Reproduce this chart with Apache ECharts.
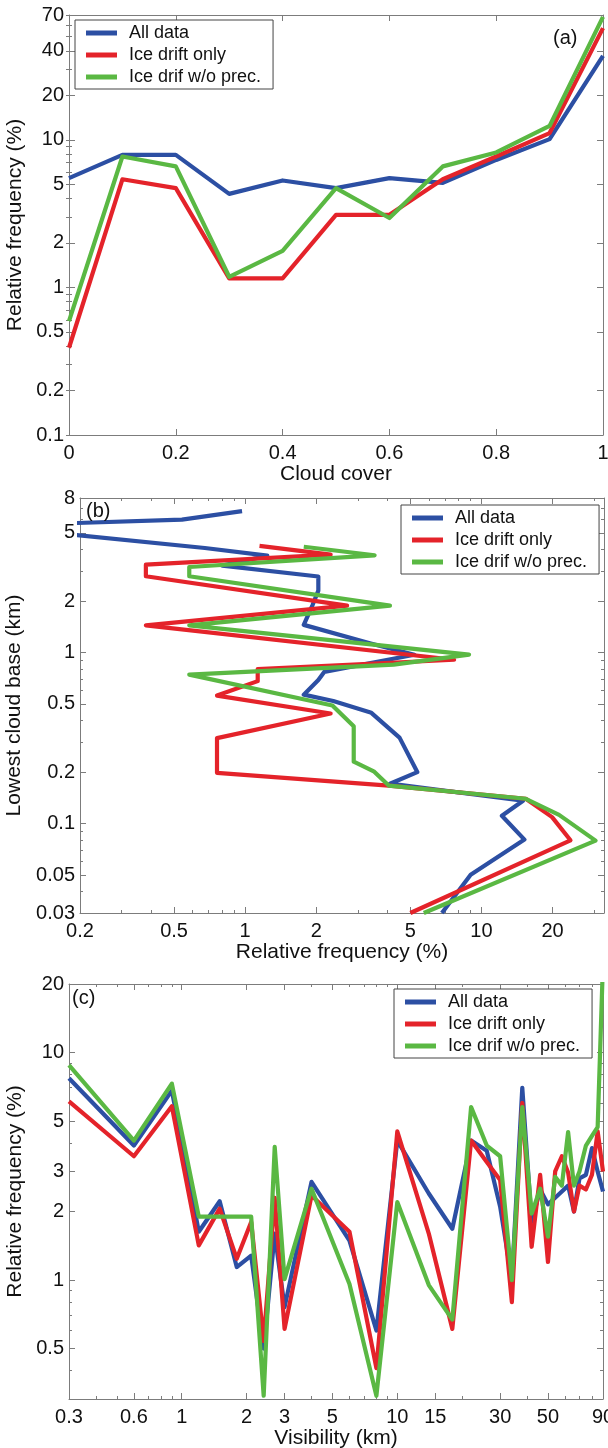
<!DOCTYPE html>
<html><head><meta charset="utf-8">
<script src="https://cdn.jsdelivr.net/npm/echarts@6/dist/echarts.min.js"></script>
<style>html,body{margin:0;padding:0;background:#fff}#c{width:608px;height:1448px}</style>
</head><body><div id="c"></div>
<script>
const seriesNames = ['All data', 'Ice drift only', 'Ice drif w/o prec.'];
const seriesColors = ['#2c4fa3', '#e4232a', '#5ab843'];

// Panel (a): relative frequency (%) vs cloud cover
const cloudCover = [0, 0.1, 0.2, 0.3, 0.4, 0.5, 0.6, 0.7, 0.8, 0.9, 1];
const aAll = [5.5, 7.9, 7.9, 4.3, 5.3, 4.7, 5.5, 5.1, 7.3, 10.1, 37];
const aIce = [0.39, 5.4, 4.7, 1.15, 1.15, 3.1, 3.1, 5.4, 7.7, 11.1, 57];
const aNoPrec = [0.59, 7.7, 6.6, 1.18, 1.77, 4.7, 2.95, 6.6, 8.2, 12.4, 68];
const aYLabels = [0.1, 0.2, 0.5, 1, 2, 5, 10, 20, 40, 70];

// Panel (b): relative frequency (%) [x] vs lowest cloud base (km) [y]
const bAllFreq = [0.97, 0.54, 0.079, 0.675, 1.24, 0.8, 2.04, 2.04, 1.93, 1.77, 3.4, 5.2, 2.16, 2.04, 1.77, 2.36, 3.42, 4.5, 5.35, 4.1, 15.0, 12.2, 15.2, 9.0, 6.8];
const bAllBase = [6.7, 5.98, 5.49, 4.08, 3.68, 3.22, 2.78, 2.3, 1.9, 1.45, 1.13, 0.97, 0.77, 0.69, 0.567, 0.52, 0.444, 0.318, 0.2, 0.171, 0.136, 0.111, 0.0806, 0.0502, 0.03];
const bIceFreq = [1.15, 2.3, 0.38, 0.38, 2.7, 0.38, 7.66, 1.13, 1.13, 0.76, 2.3, 0.76, 0.76, 4.05, 15.4, 19.9, 23.8, 5.0];
const bIceBase = [4.2, 3.73, 3.26, 2.79, 1.88, 1.44, 0.907, 0.8, 0.68, 0.56, 0.44, 0.316, 0.198, 0.1667, 0.1396, 0.109, 0.0798, 0.03];
const bNoPrecFreq = [1.77, 3.53, 0.58, 0.58, 4.1, 0.58, 8.86, 4.25, 0.58, 2.34, 2.88, 2.88, 3.5, 4.05, 15.4, 21.3, 30.4, 5.7];
const bNoPrecBase = [4.15, 3.7, 3.16, 2.79, 1.88, 1.44, 0.972, 0.85, 0.742, 0.49, 0.37, 0.23, 0.202, 0.1667, 0.1396, 0.1124, 0.0795, 0.03];
const bXLabels = [0.2, 0.5, 1, 2, 5, 10, 20];
const bYLabels = [0.03, 0.05, 0.1, 0.2, 0.5, 1, 2, 5, 8];

// Panel (c): relative frequency (%) vs visibility (km)
const visibility = [0.3, 0.6, 0.9, 1.2, 1.5, 1.8, 2.1, 2.4, 2.7, 3, 4, 6, 8, 10, 14, 18, 22, 26, 30, 34, 38, 42, 46, 50, 54, 58, 62, 66, 70, 75, 80, 85, 90];
const cAll = [7.7, 3.9, 6.8, 1.63, 2.22, 1.14, 1.28, 0.5, 1.6, 0.76, 2.7, 1.49, 0.6, 4.1, 2.4, 1.68, 4.1, 3.7, 2.1, 1.0, 7.0, 1.8, 2.5, 2.15, 2.3, 2.45, 2.6, 2.0, 2.8, 2.9, 3.8, 3.0, 2.45];
const cIce = [6.1, 3.5, 5.8, 1.42, 2.06, 1.24, 1.8, 0.54, 2.3, 0.61, 2.35, 1.63, 0.41, 4.5, 1.6, 0.61, 4.1, 3.3, 2.75, 0.8, 6.0, 1.4, 2.9, 1.2, 3.0, 3.5, 2.97, 2.0, 2.6, 2.5, 2.9, 4.5, 3.0];
const cNoPrec = [8.8, 4.1, 7.3, 1.9, 1.9, 1.9, 1.9, 0.31, 3.85, 1.01, 2.52, 0.96, 0.31, 2.2, 0.95, 0.67, 5.76, 3.9, 3.5, 1.0, 5.76, 1.96, 2.52, 1.55, 2.84, 2.6, 4.47, 2.6, 3.0, 3.9, 4.3, 4.7, 25];
const cXLabels = [0.3, 0.6, 1, 2, 3, 5, 10, 15, 30, 50, 90];
const cYLabels = [0.5, 1, 2, 3, 5, 10, 20];

const FONT = '"Liberation Sans", Arial, Helvetica, sans-serif';
const AXIS = '#7c7c7c';
const TXT = '#111';
const TICK_FS = 20;
const NAME_FS = 21;
const fmt = v => String(parseFloat(Number(v).toPrecision(6)));

function minorValues(min, max) {
  const out = [];
  for (let e = -3; e <= 3; e++) for (let m = 1; m <= 9; m++) {
    const v = parseFloat((m * Math.pow(10, e)).toPrecision(6));
    if (v >= min * 0.9999 && v <= max * 1.0001) out.push(v);
  }
  return out;
}

function logAxes(dim, gridIndex, min, max, labels, name, nameGap) {
  const sides = dim === 'x' ? ['bottom', 'top'] : ['left', 'right'];
  const base = {
    type: 'log', gridIndex, min, max, logBase: 10,
    splitLine: { show: false }, minorTick: { show: false }, minorSplitLine: { show: false },
    axisLine: { show: true, onZero: false, lineStyle: { color: AXIS, width: 1 } }
  };
  const main = Object.assign({}, base, {
    position: sides[0],
    axisTick: { show: true, inside: true, length: 6, customValues: labels, lineStyle: { color: AXIS } },
    axisLabel: { show: true, customValues: labels, formatter: fmt, fontSize: TICK_FS, color: TXT, fontFamily: FONT, margin: dim === 'x' ? 8 : 5 },
    name, nameLocation: 'middle', nameGap,
    nameTextStyle: { fontSize: NAME_FS, color: TXT, fontFamily: FONT }
  });
  const opp = Object.assign({}, base, {
    position: sides[1],
    axisTick: { show: true, inside: true, length: 6, customValues: labels, lineStyle: { color: AXIS } },
    axisLabel: { show: false }
  });
  const minor = minorValues(min, max);
  const m1 = Object.assign({}, base, {
    position: sides[1], axisLine: { show: false },
    axisTick: { show: true, inside: true, length: 3, customValues: minor, lineStyle: { color: AXIS } },
    axisLabel: { show: false }
  });
  const m2 = Object.assign({}, m1, { position: sides[0] });
  return [main, opp, m1, m2];
}

const grids = [
  { left: 69, top: 15, right: 5, height: 420, outerBoundsMode: 'none' },
  { left: 80, top: 498, right: 4, height: 415, outerBoundsMode: 'none' },
  { left: 69, top: 984, right: 5, height: 415, outerBoundsMode: 'none' }
];

const xAxes = [
  {
    type: 'value', gridIndex: 0, position: 'bottom', min: 0, max: 1, interval: 0.2,
    splitLine: { show: false },
    axisLine: { onZero: false, lineStyle: { color: AXIS } },
    axisTick: { inside: true, length: 6, lineStyle: { color: AXIS } },
    axisLabel: { fontSize: TICK_FS, color: TXT, fontFamily: FONT, margin: 8, formatter: fmt },
    name: 'Cloud cover', nameLocation: 'middle', nameGap: 25,
    nameTextStyle: { fontSize: NAME_FS, color: TXT, fontFamily: FONT }
  },
  {
    type: 'value', gridIndex: 0, position: 'top', min: 0, max: 1, interval: 0.2,
    splitLine: { show: false },
    axisLine: { onZero: false, lineStyle: { color: AXIS } },
    axisTick: { inside: true, length: 6, lineStyle: { color: AXIS } },
    axisLabel: { show: false }
  }
].concat(
  logAxes('x', 1, 0.2, 33, bXLabels, 'Relative frequency (%)', 29),
  logAxes('x', 2, 0.3, 90, cXLabels, 'Visibility (km)', 26)
);

const yAxes = [].concat(
  logAxes('y', 0, 0.1, 70, aYLabels, 'Relative frequency (%)', 34),
  logAxes('y', 1, 0.03, 8, bYLabels, 'Lowest cloud base (km)', 45),
  logAxes('y', 2, 0.3, 20, cYLabels, 'Relative frequency (%)', 34)
);

const zip = (xs, ys) => xs.map((x, i) => [x, ys[i]]);

function line(idx, xi, yi, data) {
  return {
    type: 'line', name: seriesNames[idx], xAxisIndex: xi, yAxisIndex: yi, data,
    showSymbol: false, symbol: 'none', clip: true, silent: true, animation: false,
    color: seriesColors[idx],
    lineStyle: { width: 4.2, color: seriesColors[idx], join: 'round' },
    itemStyle: { color: seriesColors[idx] }
  };
}

const series = [
  line(0, 0, 0, zip(cloudCover, aAll)),
  line(1, 0, 0, zip(cloudCover, aIce)),
  line(2, 0, 0, zip(cloudCover, aNoPrec)),
  line(0, 2, 4, zip(bAllFreq, bAllBase)),
  line(1, 2, 4, zip(bIceFreq, bIceBase)),
  line(2, 2, 4, zip(bNoPrecFreq, bNoPrecBase)),
  line(0, 6, 8, zip(visibility, cAll)),
  line(1, 6, 8, zip(visibility, cIce)),
  line(2, 6, 8, zip(visibility, cNoPrec))
];

function legendAt(left, top) {
  return {
    show: true, orient: 'vertical', left, top, data: seriesNames,
    icon: 'rect', itemWidth: 31, itemHeight: 5, itemGap: 4,
    padding: [4, 12, 3, 11], borderColor: '#444', borderWidth: 1, borderRadius: 0,
    backgroundColor: '#fff', selectedMode: false,
    textStyle: { fontSize: 18, color: TXT, fontFamily: FONT, padding: [0, 0, 0, 7] }
  };
}

function panelTag(text, left, top) {
  return { text, left, top, padding: 0, textStyle: { fontSize: 20, fontWeight: 'normal', color: TXT, fontFamily: FONT } };
}

const chart = echarts.init(document.getElementById('c'), null, { renderer: 'canvas' });
chart.setOption({
  animation: false,
  backgroundColor: '#fff',
  textStyle: { fontFamily: FONT },
  title: [panelTag('(a)', 553, 28), panelTag('(b)', 86, 501), panelTag('(c)', 72, 988)],
  legend: [legendAt(75, 20), legendAt(401, 505), legendAt(394, 989)],
  grid: grids,
  xAxis: xAxes,
  yAxis: yAxes,
  series
});
</script></body></html>
